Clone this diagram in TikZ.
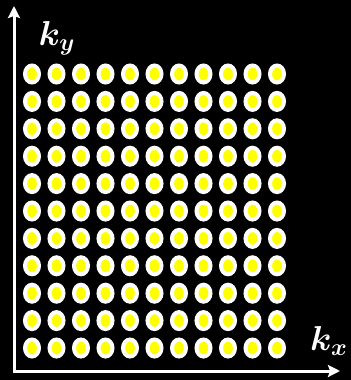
\documentclass[tikz,border=0pt]{standalone}
\usepackage{xcolor}
\usepackage{tikz}
\usetikzlibrary{positioning,arrows.meta,shapes.geometric}
\definecolor{dotyellow}{RGB}{255,255,0}

\begin{document}
\begin{tikzpicture}[
  x=0.5pt, y=-0.5pt,
  sample/.style={ellipse, draw=white, line width=2pt, fill=dotyellow,
                 inner sep=0pt, minimum width=7pt, minimum height=8.5pt},
  axis/.style={{Stealth[length=6pt,width=6pt,inset=1pt]}-{Stealth[length=6pt,width=6pt,inset=1pt]},
               white, line width=1.5pt},
  axlabel/.style={text=white, font=\fontsize{18}{22}\selectfont\boldmath}
]
  \fill[black] (0,0) rectangle (351,380);
  \useasboundingbox (0,0) rectangle (351,380);

  \coordinate (O) at (14,371);
  \coordinate (ytip) at (14,6);
  \coordinate (xtip) at (340,371);
  \draw[axis] (ytip) -- (O) -- (xtip);

  \node[axlabel] (ky) at (57,38) {$k_y$};
  \node[axlabel] (kx) at (329,341) {$k_x$};

  % k-space samples
  \foreach \i in {0,...,10}
    \foreach \j in {0,...,10}
      \node[sample] (s-\i-\j) at ({32+24.5*\i},{74+27.4*\j}) {};
\end{tikzpicture}
\end{document}
